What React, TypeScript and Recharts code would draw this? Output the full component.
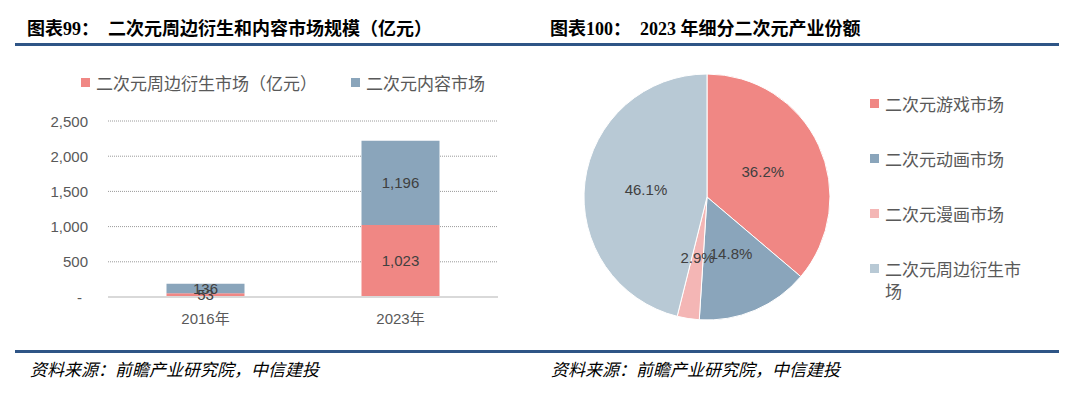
import { BarChart, Bar, XAxis, YAxis, CartesianGrid, Legend, LabelList, PieChart, Pie, Cell } from 'recharts';

// left chart: market size (亿元)
const years = ['2016年', '2023年'];
const derivativeMarket = [53, 1023];
const contentMarket = [136, 1196];
const yTicks = [0, 500, 1000, 1500, 2000, 2500];
const barSeriesNames = ['二次元周边衍生市场（亿元）', '二次元内容市场'];

// right chart: 2023 share by segment (%)
const segmentNames = ['二次元游戏市场', '二次元动画市场', '二次元漫画市场', '二次元周边衍生市场'];
const segmentShares = [36.2, 14.8, 2.9, 46.1];
const segmentColors = ['#F08784', '#8AA5BB', '#F4B6B5', '#B8C9D5'];

const barData = years.map((y, i) => ({ year: y, derivative: derivativeMarket[i], content: contentMarket[i] }));
const pieData = segmentNames.map((n, i) => ({ name: n, value: segmentShares[i] }));

const numFont = '"Liberation Sans", "Noto Sans CJK SC", sans-serif';
const cjkFont = '"Noto Sans CJK SC", sans-serif';
const titleFont = '"Liberation Serif", "Noto Sans CJK SC", serif';
const RAD = Math.PI / 180;

const BarLegend = ({ payload }: any) => (
  <div style={{ display: 'flex', alignItems: 'center', fontFamily: cjkFont, fontSize: 17, color: '#595959', whiteSpace: 'nowrap' }}>
    {(payload || []).map((p: any, i: number) => (
      <div key={i} style={{ display: 'flex', alignItems: 'center', marginRight: 34 }}>
        <span style={{ width: 9, height: 9, background: p.color, marginRight: 6, display: 'inline-block' }} />
        <span>{p.value}</span>
      </div>
    ))}
  </div>
);

const PieLegend = ({ payload }: any) => (
  <div style={{ fontFamily: cjkFont, fontSize: 17, color: '#595959' }}>
    {(payload || []).map((p: any, i: number) => (
      <div key={i} style={{ display: 'flex', alignItems: 'flex-start', height: 55, lineHeight: '22px' }}>
        <span style={{ width: 9, height: 9, background: p.color, marginRight: 6, marginTop: 6, flex: 'none' }} />
        <span style={{ width: 138 }}>{p.value}</span>
      </div>
    ))}
  </div>
);

const pieLabel = (props: any) => {
  const { cx, cy, midAngle, outerRadius, value } = props;
  const r = outerRadius * 0.5;
  const x = cx + r * Math.cos(-midAngle * RAD);
  const y = cy + r * Math.sin(-midAngle * RAD);
  return (
    <text x={x} y={y} textAnchor="middle" dominantBaseline="central" fill="#404040" fontSize={15} fontFamily={numFont}>
      {value.toFixed(1)}%
    </text>
  );
};

const YTick = (props: any) => {
  const { x, y, payload } = props;
  const v = payload.value as number;
  return (
    <text x={v === 0 ? x - 6 : x} y={y} textAnchor="end" dominantBaseline="central" fill="#595959" fontSize={15} fontFamily={numFont}>
      {v === 0 ? '-' : v.toLocaleString('en-US')}
    </text>
  );
};

export default function App() {
  return (
    <div style={{ position: 'absolute', left: 0, top: 0, width: 1080, height: 398, background: '#fff', overflow: 'hidden' }}>
      <div style={{ position: 'absolute', left: 27, top: 14, fontFamily: titleFont, fontWeight: 'bold', fontSize: 18, color: '#000', whiteSpace: 'pre' }}>
        {'图表99：  二次元周边衍生和内容市场规模（亿元）'}
      </div>
      <div style={{ position: 'absolute', left: 550, top: 14, fontFamily: titleFont, fontWeight: 'bold', fontSize: 18, color: '#000', whiteSpace: 'pre' }}>
        {'图表100：  2023 年细分二次元产业份额'}
      </div>
      <div style={{ position: 'absolute', left: 15, top: 43, width: 1044, height: 3, background: '#2E5586' }} />
      <div style={{ position: 'absolute', left: 15, top: 350, width: 1044, height: 3, background: '#2E5586' }} />

      <div style={{ position: 'absolute', left: 0, top: 0 }}>
        <BarChart width={520} height={340} data={barData} margin={{ top: 121, right: 22, bottom: 0, left: 0 }} barCategoryGap="30%">
          <CartesianGrid vertical={false} stroke="#9a9a9a" strokeDasharray="1 1" />
          <XAxis dataKey="year" height={43} axisLine={{ stroke: '#d9d9d9', strokeWidth: 2 }} tickLine={false} tickMargin={10}
            tick={{ fill: '#595959', fontSize: 15, fontFamily: numFont }} />
          <YAxis width={108} domain={[0, 2500]} ticks={yTicks} axisLine={false} tickLine={false} tickMargin={14}
            tick={YTick} />
          <Legend verticalAlign="middle" align="center" content={BarLegend}
            itemSorter={(item: any) => barSeriesNames.indexOf(item.value)}
            wrapperStyle={{ top: 70, left: 81, width: 'auto' }} />
          <Bar dataKey="derivative" name={barSeriesNames[0]} stackId="a" fill="#F08784" isAnimationActive={false}>
            <LabelList dataKey="derivative" position="center" fill="#404040" fontSize={15} fontFamily={numFont}
              formatter={(v: any) => Number(v).toLocaleString('en-US')} />
          </Bar>
          <Bar dataKey="content" name={barSeriesNames[1]} stackId="a" fill="#8AA5BB" isAnimationActive={false}>
            <LabelList dataKey="content" position="center" fill="#404040" fontSize={15} fontFamily={numFont}
              formatter={(v: any) => Number(v).toLocaleString('en-US')} />
          </Bar>
        </BarChart>
      </div>

      <div style={{ position: 'absolute', left: 540, top: 0 }}>
        <PieChart width={540} height={340} margin={{ top: 0, right: 0, bottom: 0, left: 0 }}>
          <Pie data={pieData} dataKey="value" nameKey="name" cx={167} cy={197} outerRadius={123} startAngle={90} endAngle={-270}
            stroke="#fff" strokeWidth={1} label={pieLabel} labelLine={false} isAnimationActive={false}>
            {pieData.map((d, i) => (
              <Cell key={d.name} fill={segmentColors[i]} />
            ))}
          </Pie>
          <Legend layout="vertical" verticalAlign="middle" align="right" content={PieLegend}
            itemSorter={(item: any) => segmentNames.indexOf(item.value)}
            wrapperStyle={{ top: 93, left: 330, right: 'auto', width: 'auto' }} />
        </PieChart>
      </div>

      <div style={{ position: 'absolute', left: 30, top: 356, fontFamily: cjkFont, fontStyle: 'italic', fontSize: 17, color: '#000' }}>
        资料来源：前瞻产业研究院，中信建投
      </div>
      <div style={{ position: 'absolute', left: 551, top: 356, fontFamily: cjkFont, fontStyle: 'italic', fontSize: 17, color: '#000' }}>
        资料来源：前瞻产业研究院，中信建投
      </div>
    </div>
  );
}
